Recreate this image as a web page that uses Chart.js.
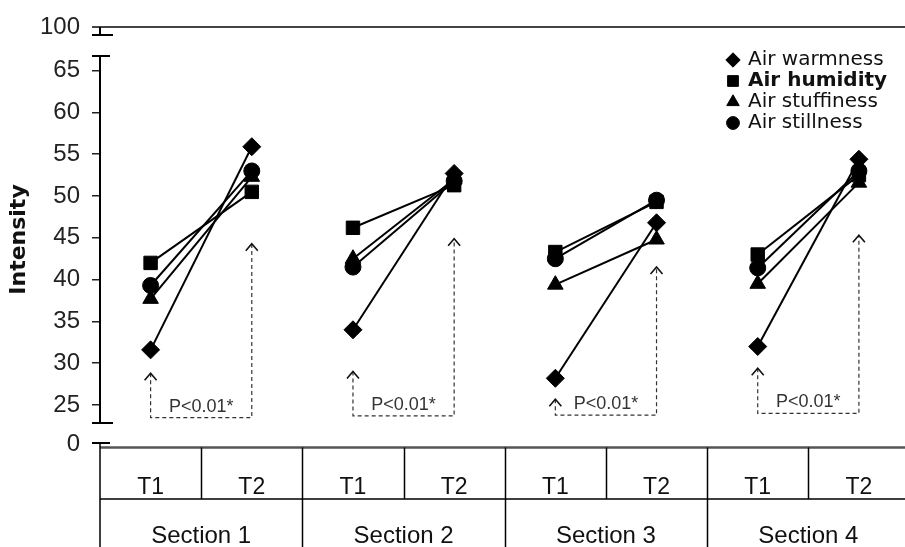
<!DOCTYPE html>
<html><head><meta charset="utf-8">
<script src="https://cdn.jsdelivr.net/npm/chart.js@4/dist/chart.umd.min.js"></script>
<style>html,body{margin:0;padding:0;overflow:hidden;background:#fff;width:905px;height:547px}canvas{display:block}</style>
</head><body>
<canvas id="c" width="920" height="547"></canvas>
<script>
// ---- data ----
const categories = ['T1', 'T2', 'T1', 'T2', 'T1', 'T2', 'T1', 'T2'];
const sections = ['Section 1', 'Section 2', 'Section 3', 'Section 4'];
const yTicks = [25, 30, 35, 40, 45, 50, 55, 60, 65];
const yBreakTop = '100';
const yBreakBottom = '0';
const seriesNames = ['Air warmness', 'Air humidity', 'Air stuffiness', 'Air stillness'];
const warmness   = [31.6, 55.9, 34.0, 52.7, 28.2, 46.8, 32.0, 54.4];
const humidity   = [42.0, 50.5, 46.2, 51.3, 43.3, 49.3, 43.0, 52.5];
const stuffiness = [37.7, 52.3, 42.5, 52.0, 39.4, 44.8, 39.5, 51.6];
const stillness  = [39.3, 53.0, 41.5, 51.8, 42.5, 49.5, 41.4, 53.0];
// significance brackets (one per section), in data units
const pTipT1 = [28.8, 29.0, 25.7, 29.4];
const pTipT2 = [44.3, 44.9, 41.5, 45.3];
const pBase  = [23.5, 23.7, 23.8, 24.0];
const pText  = 'P<0.01*';

// ---- styles ----
const SANS = '"Liberation Sans", Arial, sans-serif';
const pointStyles = ['rectRot', 'rect', 'triangle', 'circle'];
const pointRadii = [9, 9.5, 9, 8];
const seriesData = [warmness, humidity, stuffiness, stillness];

const datasets = seriesNames.map((name, i) => ({
  label: name,
  data: seriesData[i],
  borderColor: '#000',
  backgroundColor: '#000',
  borderWidth: 2,
  pointStyle: pointStyles[i],
  pointRadius: pointRadii[i],
  pointBorderWidth: 1,
  pointBackgroundColor: '#000',
  pointBorderColor: '#000',
  segment: { borderColor: ctx => (ctx.p0DataIndex % 2 === 1 ? 'rgba(0,0,0,0)' : '#000') },
  tension: 0,
  fill: false
}));

const decor = {
  id: 'decor',
  beforeDatasetsDraw(chart) {
    const { ctx, scales: { x, y } } = chart;
    ctx.save();
    sections.forEach((s, k) => {
      const x1 = x.getPixelForValue(2 * k), x2 = x.getPixelForValue(2 * k + 1);
      const yb = y.getPixelForValue(pBase[k]);
      const t1 = y.getPixelForValue(pTipT1[k]), t2 = y.getPixelForValue(pTipT2[k]);
      ctx.strokeStyle = '#333'; ctx.lineWidth = 1.2; ctx.setLineDash([4, 3]);
      ctx.beginPath();
      ctx.moveTo(x1, t1); ctx.lineTo(x1, yb); ctx.lineTo(x2, yb); ctx.lineTo(x2, t2);
      ctx.stroke();
      ctx.setLineDash([]); ctx.lineWidth = 1.6; ctx.strokeStyle = '#111';
      [[x1, t1], [x2, t2]].forEach(([ax, ay]) => {
        ctx.beginPath();
        ctx.moveTo(ax - 6, ay + 7); ctx.lineTo(ax, ay); ctx.lineTo(ax + 6, ay + 7);
        ctx.stroke();
      });
      ctx.fillStyle = '#333'; ctx.font = '18px ' + SANS;
      ctx.textAlign = 'center'; ctx.textBaseline = 'middle';
      ctx.fillText(pText, (x1 + x2) / 2, yb - 11);
    });
    ctx.restore();
  },
  afterDraw(chart) {
    const { ctx, chartArea: ca, scales: { x } } = chart;
    const L = ca.left, W = chart.width, H = chart.height;
    ctx.save();
    // top break (100)
    const y100 = ca.top - 29, yCapTop = ca.top - 21;
    ctx.strokeStyle = '#444'; ctx.lineWidth = 2;
    ctx.beginPath(); ctx.moveTo(L - 8, y100); ctx.lineTo(W, y100); ctx.stroke();
    ctx.strokeStyle = '#000';
    ctx.beginPath();
    ctx.moveTo(L, y100); ctx.lineTo(L, yCapTop);
    ctx.moveTo(L - 8, yCapTop); ctx.lineTo(L + 13, yCapTop);
    ctx.moveTo(L - 8, ca.top); ctx.lineTo(L + 10, ca.top);
    ctx.moveTo(L - 8, ca.bottom); ctx.lineTo(L + 13, ca.bottom);
    const y0 = ca.bottom + 20;
    ctx.moveTo(L - 8, y0); ctx.lineTo(L + 10, y0);
    ctx.stroke();
    // table
    const tTop = ca.bottom + 24.5, tMid = ca.bottom + 76;
    ctx.strokeStyle = '#555'; ctx.lineWidth = 2.5;
    ctx.beginPath(); ctx.moveTo(L, tTop); ctx.lineTo(W, tTop); ctx.stroke();
    ctx.strokeStyle = '#000'; ctx.lineWidth = 1.5;
    ctx.beginPath();
    ctx.moveTo(L, y0); ctx.lineTo(L, H);
    ctx.moveTo(L, tMid); ctx.lineTo(W, tMid);
    for (let i = 1; i < categories.length; i++) {
      const xb = Math.round((x.getPixelForValue(i - 1) + x.getPixelForValue(i)) / 2) + 0.5;
      ctx.moveTo(xb, tTop); ctx.lineTo(xb, i % 2 === 1 ? tMid : H);
    }
    ctx.stroke();
    // break labels
    ctx.fillStyle = '#222'; ctx.font = '24px ' + SANS;
    ctx.textAlign = 'right'; ctx.textBaseline = 'middle';
    ctx.fillText(yBreakTop, L - 20, y100);
    ctx.fillText(yBreakBottom, L - 20, y0 + 1);
    // section labels
    ctx.fillStyle = '#111'; ctx.font = '24px ' + SANS; ctx.textAlign = 'center';
    sections.forEach((s, k) => {
      const cx = (x.getPixelForValue(2 * k) + x.getPixelForValue(2 * k + 1)) / 2;
      ctx.fillText(s, cx, ca.bottom + 113);
    });
    // legend
    const lx = 733, ly0 = 60, dy = 21;
    chart.data.datasets.forEach((ds, i) => {
      const ly = ly0 + i * dy;
      ctx.fillStyle = '#000'; ctx.strokeStyle = '#000'; ctx.lineWidth = 1;
      Chart.helpers.drawPoint(ctx, { pointStyle: ds.pointStyle, radius: ds.pointRadius * 0.8, rotation: 0, borderWidth: 1 }, lx, ly);
      ctx.fillStyle = '#111';
      ctx.font = (i === 1 ? 'bold ' : '') + '20px "DejaVu Sans", Verdana, sans-serif';
      ctx.textAlign = 'left'; ctx.textBaseline = 'middle';
      ctx.fillText(ds.label, lx + 15, ly);
    });
    ctx.restore();
  }
};

new Chart(document.getElementById('c'), {
  type: 'line',
  data: { labels: categories, datasets },
  options: {
    responsive: false,
    animation: false,
    devicePixelRatio: 1,
    layout: { padding: { top: 56, right: 5, bottom: 0, left: 0 } },
    plugins: { legend: { display: false }, tooltip: { enabled: false } },
    scales: {
      x: {
        type: 'category',
        offset: true,
        grid: { display: false },
        border: { display: false },
        ticks: { font: { size: 23, family: SANS }, color: '#111', padding: 43, maxRotation: 0, autoSkip: false },
        afterFit: s => { s.height = 124; }
      },
      y: {
        min: 22.85,
        max: 66.75,
        afterBuildTicks: axis => { axis.ticks = yTicks.map(v => ({ value: v })); },
        ticks: { font: { size: 24, family: SANS }, color: '#222', padding: 12 },
        grid: { drawOnChartArea: false, drawTicks: true, tickLength: 8, color: '#222', lineWidth: 1.5 },
        border: { display: true, color: '#000', width: 2 },
        title: { display: true, text: 'Intensity', font: { size: 22, weight: 'bold', family: '"DejaVu Sans", Verdana, sans-serif' }, color: '#111', padding: { top: 6, bottom: 0 } },
        afterFit: s => { s.width = 100; }
      }
    }
  },
  plugins: [decor]
});
</script>
</body></html>
